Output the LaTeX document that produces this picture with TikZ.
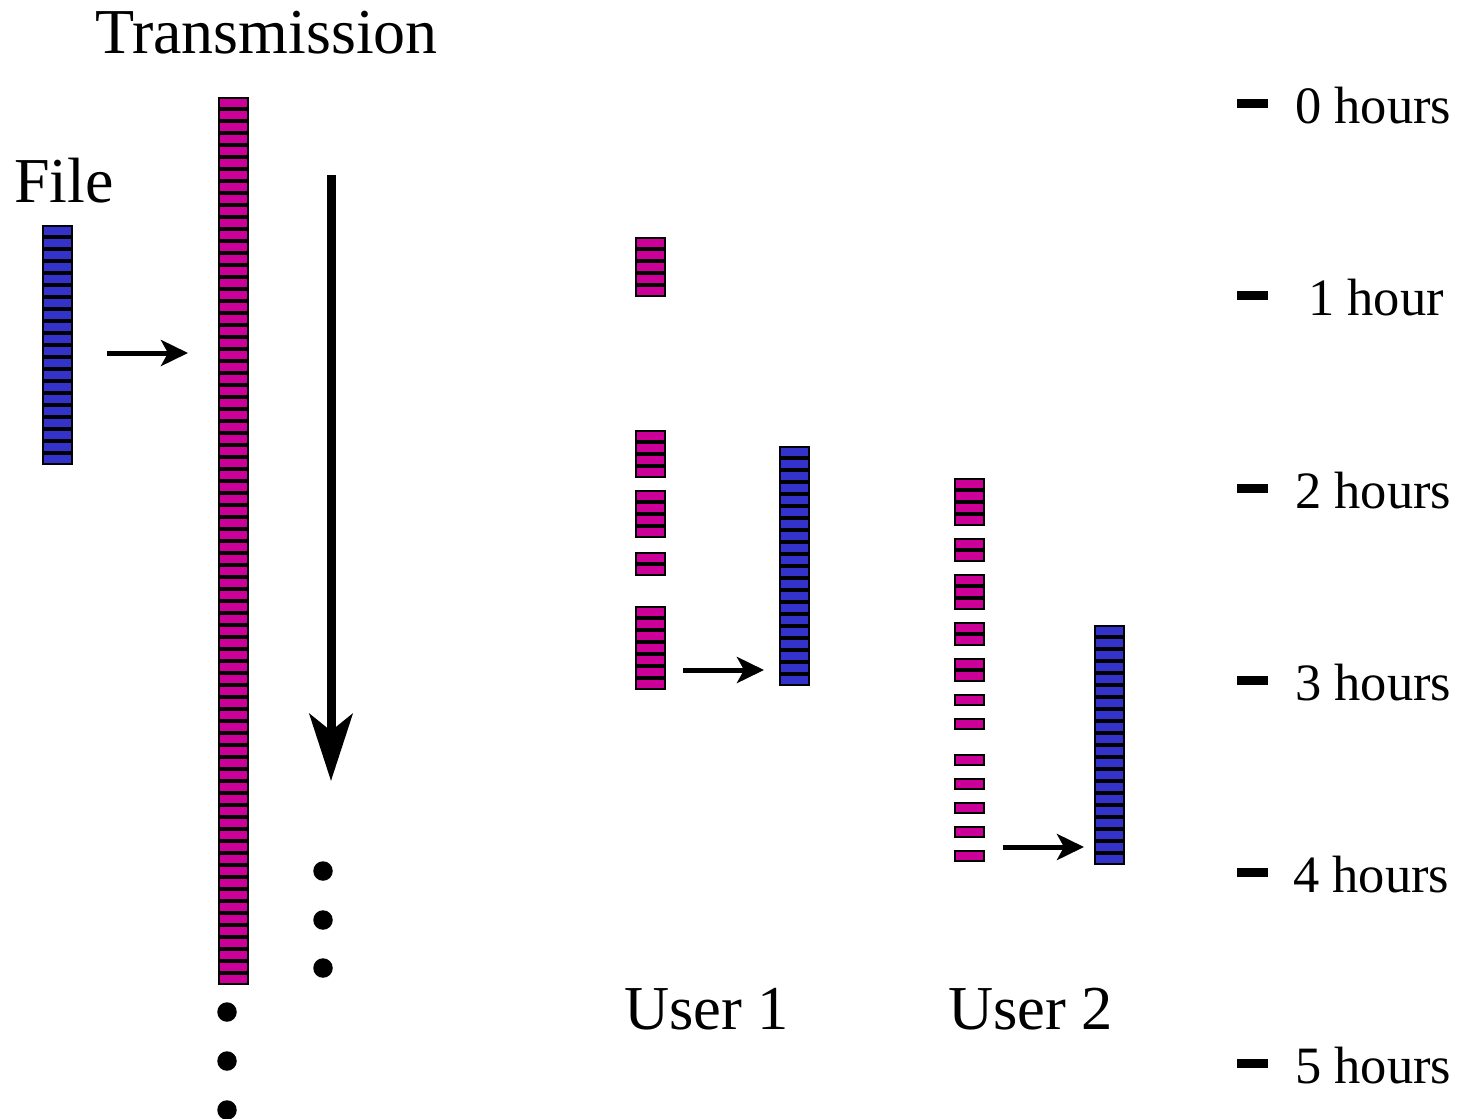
\documentclass[tikz,border=0pt]{standalone}
\usepackage{fontspec}
\setmainfont{Liberation Serif}
\usetikzlibrary{arrows.meta}

\definecolor{pktpink}{RGB}{204,0,153}
\definecolor{pktblue}{RGB}{51,51,204}

\tikzset{
  block/.style={draw=black, line width=2.4pt},
  bigtext/.style={anchor=base west, inner sep=0pt, font=\fontsize{64}{64}\selectfont},
  usertext/.style={anchor=base west, inner sep=0pt, font=\fontsize{62.5}{62.5}\selectfont},
  timetext/.style={anchor=base west, inner sep=0pt, font=\fontsize{52.5}{52.5}\selectfont},
  tickmark/.style={fill=black, inner sep=0pt, minimum width=31pt, minimum height=9pt},
  smallarrow/.style={line width=5pt, -{Stealth[length=27pt, width=26pt, inset=7pt]}},
  bigarrow/.style={line width=9pt, -{Stealth[length=67pt, width=43pt, inset=17pt]}},
  dotmark/.style={circle, fill=black, inner sep=0pt, minimum size=19.5pt},
}

% one column of packets: left x, top y, number of packets, fill colour
\newcommand\pktcol[4]{%
  \foreach \k in {1,...,#3}{%
    \draw[block, fill=#4] ({#1+1.2},{#2+12*(\k-1)+1.2}) rectangle ({#1+29.8},{#2+12*\k-1.2});
  }}

\begin{document}
\begin{tikzpicture}[x=1pt, y=-1pt]
\useasboundingbox (0,0) rectangle (1465,1119);

% headings
\node[bigtext] (trans) at (95,53) {Transmission};
\node[bigtext] (file) at (14,202) {File};
\node[usertext] (user1) at (624,1029) {User 1};
\node[usertext] (user2) at (948,1029) {User 2};

% source file
\pktcol{42}{225}{20}{pktblue}

% transmitted stream
\pktcol{218}{97}{74}{pktpink}

% user 1: received packets and decoded file
\pktcol{635}{237}{5}{pktpink}
\pktcol{635}{430}{4}{pktpink}
\pktcol{635}{490}{4}{pktpink}
\pktcol{635}{552}{2}{pktpink}
\pktcol{635}{606}{7}{pktpink}
\pktcol{779}{446}{20}{pktblue}

% user 2: received packets and decoded file
\pktcol{954}{478}{4}{pktpink}
\pktcol{954}{538}{2}{pktpink}
\pktcol{954}{574}{3}{pktpink}
\pktcol{954}{622}{2}{pktpink}
\pktcol{954}{658}{2}{pktpink}
\foreach \yy in {694,718,754,778,802,826,850}{\pktcol{954}{\yy}{1}{pktpink}}
\pktcol{1094}{625}{20}{pktblue}

% arrows
\coordinate (fa) at (107,353);
\coordinate (fb) at (188,353);
\draw[smallarrow] (fa) -- (fb);
\coordinate (ua) at (683,670);
\coordinate (ub) at (764,670);
\draw[smallarrow] (ua) -- (ub);
\coordinate (va) at (1003,847);
\coordinate (vb) at (1084,847);
\draw[smallarrow] (va) -- (vb);
\coordinate (ta) at (331,175);
\coordinate (tb) at (331,781);
\draw[bigarrow] (ta) -- (tb);

% continuation dots
\node[dotmark] (d1) at (323,871) {};
\node[dotmark] (d2) at (323,920) {};
\node[dotmark] (d3) at (323,968) {};
\node[dotmark] (e1) at (227,1012) {};
\node[dotmark] (e2) at (227,1061) {};
\node[dotmark] (e3) at (227,1110) {};

% time scale
\node[tickmark] (t0) at (1252,103) {};
\node[tickmark] (t1) at (1252,295) {};
\node[tickmark] (t2) at (1252,488) {};
\node[tickmark] (t3) at (1252,680) {};
\node[tickmark] (t4) at (1252,872) {};
\node[tickmark] (t5) at (1252,1063) {};
\node[timetext] (h0) at (1295,123) {0 hours};
\node[timetext] (h1) at (1308,315) {1 hour};
\node[timetext] (h2) at (1295,508) {2 hours};
\node[timetext] (h3) at (1295,700) {3 hours};
\node[timetext] (h4) at (1293,892) {4 hours};
\node[timetext] (h5) at (1295,1083) {5 hours};
\end{tikzpicture}
\end{document}
